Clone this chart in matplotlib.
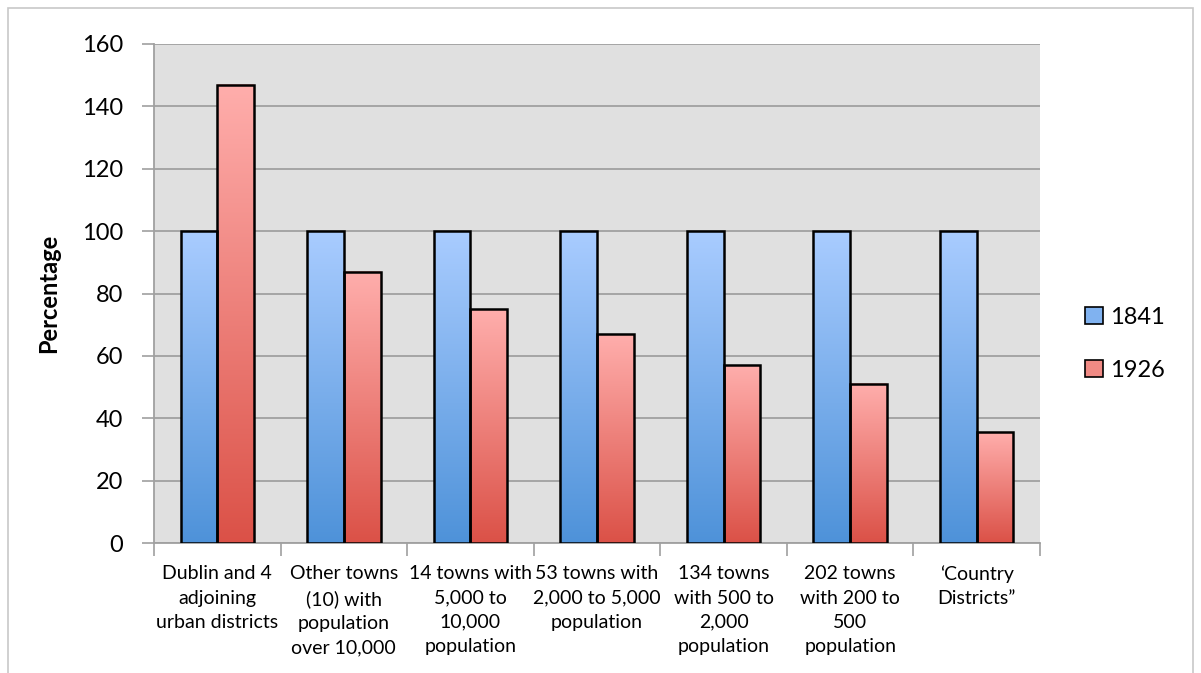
import numpy as np
import matplotlib.pyplot as plt
from matplotlib.colors import LinearSegmentedColormap
from matplotlib.patches import Patch, Rectangle

categories = [
    "Dublin and 4\nadjoining\nurban districts",
    "Other towns\n(10) with\npopulation\nover 10,000",
    "14 towns with\n5,000 to\n10,000\npopulation",
    "53 towns with\n2,000 to 5,000\npopulation",
    "134 towns\nwith 500 to\n2,000\npopulation",
    "202 towns\nwith 200 to\n500\npopulation",
    "\u2018Country\nDistricts\u201d",
]
pct_1841 = [100, 100, 100, 100, 100, 100, 100]
pct_1926 = [147, 87, 75, 67, 57, 51, 35.5]
series_names = ["1841", "1926"]

blue_cmap = LinearSegmentedColormap.from_list("blue", ["#4e92d9", "#a9ccff"])
red_cmap = LinearSegmentedColormap.from_list("red", ["#db5147", "#ffaeac"])

plt.rcParams["font.family"] = ["Lato", "DejaVu Sans"]

fig = plt.figure(figsize=(12.01, 6.73), dpi=100)
fig.patches.append(Rectangle((8 / 1201, -0.01), 1185 / 1201, 1 - 8 / 673 + 0.01,
                             transform=fig.transFigure, fill=False,
                             edgecolor="#c8c8c8", linewidth=1.2))
ax = fig.add_axes([154 / 1201, 130 / 673, 886 / 1201, 499 / 673])
ax.set_facecolor("#e0e0e0")

x = np.arange(len(categories))
w = 0.29
grad = np.linspace(0, 1, 256).reshape(-1, 1)

# outlined bars, each filled with its own vertical gradient
for vals, off, cmap in [(pct_1841, -w / 2, blue_cmap), (pct_1926, w / 2, red_cmap)]:
    bars = ax.bar(x + off, vals, width=w, facecolor="none", edgecolor="black",
                  linewidth=1.8, zorder=4)
    for b in bars:
        x0, y0 = b.get_x(), b.get_y()
        ax.imshow(grad, cmap=cmap, origin="lower", aspect="auto",
                  extent=[x0, x0 + b.get_width(), y0, y0 + b.get_height()],
                  zorder=3)

ax.set_xlim(-0.5, len(categories) - 0.5)
ax.set_ylim(0, 160)
ax.set_yticks(np.arange(0, 161, 20))
ax.yaxis.grid(True, color="#a0a0a0", linewidth=1.3, zorder=1)
ax.set_axisbelow(True)

ax.set_xticks(x)
ax.set_xticklabels(categories, fontsize=14, linespacing=1.52)
ax.set_xticks(np.arange(-0.5, len(categories)), minor=True)
ax.tick_params(axis="x", which="major", length=0, pad=16)
ax.tick_params(axis="x", which="minor", length=9, color="#a0a0a0", width=1.2)
ax.tick_params(axis="y", length=9, color="#a0a0a0", width=1.2, labelsize=17, pad=13)

for s in ["top", "right"]:
    ax.spines[s].set_visible(False)
for s in ["left", "bottom"]:
    ax.spines[s].set_color("#a0a0a0")
    ax.spines[s].set_linewidth(1.3)

ax.set_ylabel("Percentage", fontsize=17, fontweight="bold", labelpad=16)

handles = [Patch(facecolor="#80b2f0", edgecolor="black", linewidth=1.2),
           Patch(facecolor="#f08a84", edgecolor="black", linewidth=1.2)]
fig.legend(handles, series_names, loc="center left",
           bbox_to_anchor=(1064 / 1201, (673 - 344) / 673), frameon=False,
           fontsize=17, handlelength=0.75, handleheight=0.75, handletextpad=0.3,
           labelspacing=1.35)

fig.savefig("out.png", dpi=100)
